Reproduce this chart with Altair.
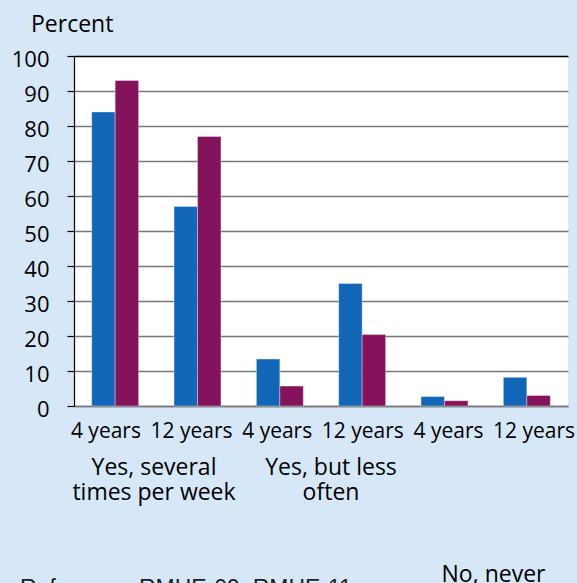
import altair as alt
import pandas as pd

groups = ["Yes, several times per week", "Yes, several times per week",
          "Yes, but less often", "Yes, but less often",
          "No, never", "No, never"]
ages = ["4 years", "12 years", "4 years", "12 years", "4 years", "12 years"]
series_names = ["Series 1", "Series 2"]
series1 = [84, 57, 13.4, 35, 2.7, 8.2]
series2 = [93, 77, 5.7, 20.4, 1.5, 3.0]
y_ticks = [0, 10, 20, 30, 40, 50, 60, 70, 80, 90, 100]

rows = []
for i, (g, a) in enumerate(zip(groups, ages)):
    slot = f"{i}|{a}"
    rows.append({"slot": slot, "group": g, "age": a, "series": series_names[0], "value": series1[i]})
    rows.append({"slot": slot, "group": g, "age": a, "series": series_names[1], "value": series2[i]})
df = pd.DataFrame(rows)
slot_order = [f"{i}|{a}" for i, a in enumerate(ages)]

FONT = "Open Sans"

bars = alt.Chart(df).mark_bar(stroke="white", strokeOpacity=0.35, strokeWidth=1).encode(
    x=alt.X("slot:N", sort=slot_order,
            scale=alt.Scale(paddingInner=0.43, paddingOuter=0.215),
            axis=alt.Axis(title=None, labelAngle=0, ticks=False,
                          labelExpr="split(datum.label, '|')[1]",
                          labelFont=FONT, labelFontSize=21, labelColor="black",
                          labelPadding=14, labelOverlap=False, labelBound=False,
                          domainColor="#777777", domainWidth=1.5,
                          labelOffset={"expr": "-1 + 3.3 * (toNumber(split(datum.value, '|')[0]) - 2.5)"})),
    xOffset=alt.XOffset("series:N", sort=series_names,
                        scale=alt.Scale(paddingInner=0, paddingOuter=0)),
    y=alt.Y("value:Q", scale=alt.Scale(domain=[0, 100], nice=False),
            axis=alt.Axis(title=None, values=y_ticks, tickSize=7, tickColor="black",
                          tickWidth=1.2, domainColor="black", domainWidth=1.2,
                          labelFont=FONT, labelFontSize=22, labelColor="black",
                          labelPadding=18, labelOffset=3,
                          gridColor={"condition": {"test": "datum.value === 100", "value": "black"},
                                     "value": "#777777"},
                          gridWidth=1.5)),
    color=alt.Color("series:N", sort=series_names,
                    scale=alt.Scale(domain=series_names, range=["#1266b8", "#84135c"]),
                    legend=None),
)

def note(text, x, y, align="center", font=FONT, size=23, color="black"):
    return alt.Chart(alt.Data(values=[{}])).mark_text(
        text=text, align=align, baseline="alphabetic", font=font, fontSize=size,
        color=color, lineHeight=25
    ).encode(x=alt.value(x), y=alt.value(y))

annotations = [
    note("Percent", -43, -24, align="left", size=23),
    note(["Yes, several", "times per week"], 80, 419),
    note(["Yes, but less", "often"], 257, 419),
    note("No, never", 419.5, 525.5),
    note("Reference: RMHE-09, RMHE-11", -54, 540, align="left",
         font="Liberation Sans", size=23, color="#222222"),
]

chart = alt.layer(bars, *annotations).properties(
    width=494, height=350,
    autosize=alt.AutoSizeParams(type="none"),
    padding={"left": 74, "top": 56, "right": 9, "bottom": 177},
    background="#d6e8f7",
).configure_view(fill="white", stroke=None)

chart.save("out.html", embed_options={"renderer": "svg", "actions": False})
